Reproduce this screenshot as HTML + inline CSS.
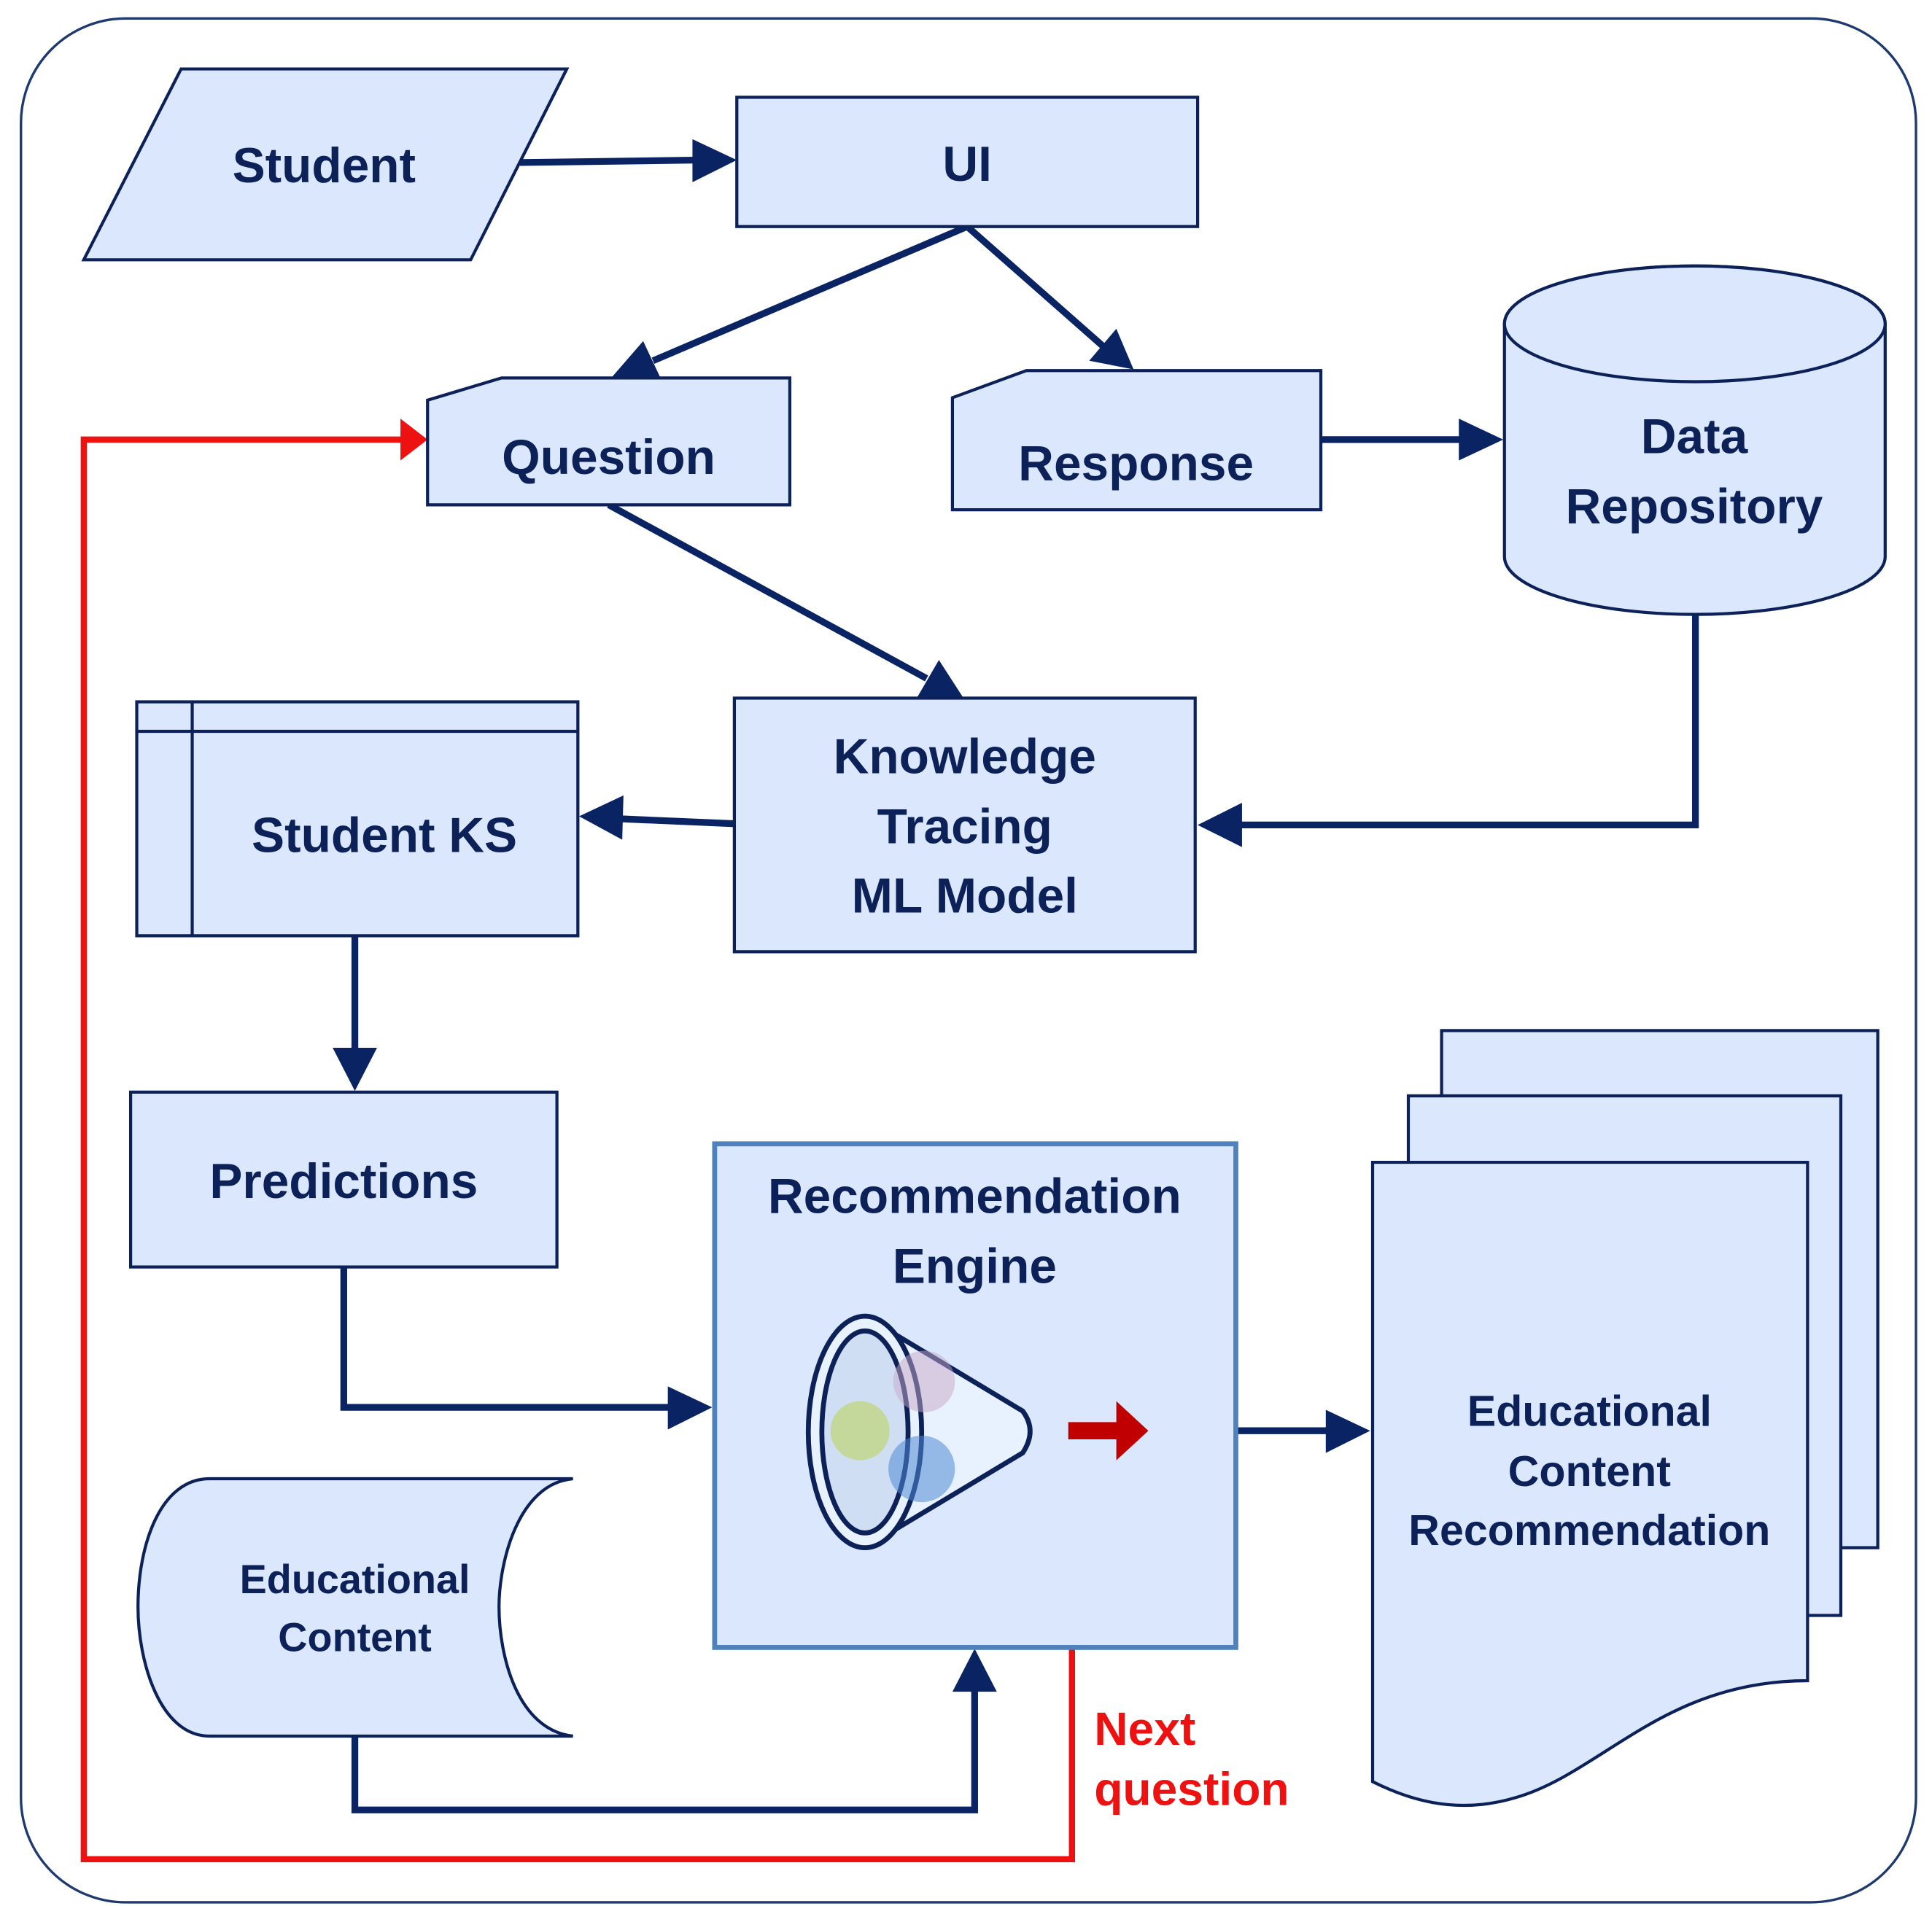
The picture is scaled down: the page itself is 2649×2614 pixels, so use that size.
<!DOCTYPE html>
<html><head><meta charset="utf-8"><style>html,body{margin:0;padding:0;background:#fff}svg{display:block}</style></head><body>
<svg width="2649" height="2614" viewBox="0 0 1568 1548" preserveAspectRatio="none" xmlns="http://www.w3.org/2000/svg">
<style>
.n{fill:#dae7fc;stroke:#0d2159;stroke-width:2.5}
.c{fill:none;stroke:#0a2463;stroke-width:5.5}
.t{font-family:"Liberation Sans",sans-serif;font-weight:bold;fill:#0d2159;text-anchor:middle}
</style>
<rect x="17" y="15" width="1538" height="1530" rx="85" fill="#fff" stroke="#1f3a6e" stroke-width="2"/>

<g fill="#0a2463">
<line class="c" x1="422" y1="132" x2="568" y2="130"/><path d="M562,113 L598,130 L562,148 z"/>
<line class="c" x1="785" y1="184" x2="530" y2="293"/><path d="M496,307 L522,277 L537,309 z"/>
<line class="c" x1="785" y1="184" x2="895" y2="281"/><path d="M920,300 L884,293 L906,267 z"/>
<line class="c" x1="1072" y1="357" x2="1188" y2="357"/><path d="M1184,340 L1220,357 L1184,374 z"/>
<line class="c" x1="494" y1="410" x2="752" y2="551"/><path d="M782,567 L744,567 L762,536 z"/>
<polyline class="c" points="1376,499 1376,670 1005,670"/><path d="M972,670 L1008,652 L1008,688 z"/>
<line class="c" x1="596" y1="669" x2="503" y2="665"/><path d="M470,663 L506,646 L505,682 z"/>
<line class="c" x1="288" y1="760" x2="288" y2="855"/><path d="M270,851 L306,851 L288,886 z"/>
<polyline class="c" points="279,1029 279,1143 545,1143"/><path d="M542,1126 L578,1143 L542,1161 z"/>
<polyline class="c" points="288,1410 288,1470 791,1470 791,1372"/><path d="M773,1374 L791,1339 L809,1374 z"/>
<line class="c" x1="1003" y1="1162" x2="1080" y2="1162"/><path d="M1076,1145 L1112,1162 L1076,1180 z"/>
</g>
<polyline points="870,1338 870,1510 68,1510 68,357 330,357" fill="none" stroke="#ee1111" stroke-width="5"/>
<path d="M325,340 L347,357 L325,374 z" fill="#ee1111"/>

<polygon class="n" points="147,56 460,56 382,211 68,211"/>
<text class="t" x="263" y="148" font-size="40">Student</text>
<rect class="n" x="598" y="79" width="374" height="105"/>
<text class="t" x="785" y="147" font-size="40">UI</text>
<polygon class="n" points="407,307 641,307 641,410 347,410 347,325"/>
<text class="t" x="494" y="385" font-size="40">Question</text>
<polygon class="n" points="833,301 1072,301 1072,414 773,414 773,323"/>
<text class="t" x="922" y="390" font-size="40">Response</text>
<path class="n" d="M1221,263 L1221,452 A154.5,47 0 0 0 1530,452 L1530,263 A154.5,47 0 0 0 1221,263 z"/>
<ellipse class="n" cx="1375.5" cy="263" rx="154.5" ry="47"/>
<text class="t" x="1375" y="368" font-size="40">Data</text>
<text class="t" x="1375" y="425" font-size="40">Repository</text>
<rect class="n" x="596" y="567" width="374" height="206"/>
<text class="t" x="783" y="628" font-size="40">Knowledge</text>
<text class="t" x="783" y="685" font-size="40">Tracing</text>
<text class="t" x="783" y="741" font-size="40">ML Model</text>
<rect class="n" x="111" y="570" width="358" height="190"/>
<line x1="156" y1="570" x2="156" y2="760" stroke="#0d2159" stroke-width="2.5"/>
<line x1="111" y1="594" x2="469" y2="594" stroke="#0d2159" stroke-width="2.5"/>
<text class="t" x="312" y="692" font-size="40">Student KS</text>
<rect class="n" x="106" y="887" width="346" height="142"/>
<text class="t" x="279" y="973" font-size="40">Predictions</text>
<rect x="580" y="929" width="423" height="409" fill="#dae7fc" stroke="#4f81bd" stroke-width="4"/>
<text class="t" x="791" y="985" font-size="40">Recommendation</text>
<text class="t" x="791" y="1042" font-size="40">Engine</text>
<path d="M702,1069 L830,1146 Q842,1162 830,1180 L702,1257 Z" fill="#e8f1fe" stroke="#0d2159" stroke-width="4" stroke-linejoin="round"/>
<ellipse cx="702" cy="1163" rx="46" ry="94" fill="#e8f1fe" stroke="#0d2159" stroke-width="4"/>
<ellipse cx="702" cy="1163" rx="35" ry="82" fill="#d0def4" stroke="#0d2159" stroke-width="4"/>
<circle cx="750" cy="1122" r="25" fill="#c8a8c8" opacity="0.5"/>
<circle cx="698" cy="1162" r="24" fill="#c5d89c"/>
<circle cx="748" cy="1193" r="27" fill="#4f8bd4" opacity="0.55"/>
<path d="M867,1155 L906,1155 L906,1138 L932,1162 L906,1186 L906,1169 L867,1169 z" fill="#c00000"/>
<rect class="n" x="1170" y="837" width="354" height="420"/>
<rect class="n" x="1143" y="890" width="351" height="422"/>
<path class="n" d="M1114,944 L1467,944 L1467,1365 C1350,1365 1300,1440 1230,1460 C1180,1475 1140,1460 1114,1447 Z"/>
<text class="t" x="1290" y="1158" font-size="35">Educational</text>
<text class="t" x="1290" y="1207" font-size="35">Content</text>
<text class="t" x="1290" y="1255" font-size="35">Recommendation</text>
<path class="n" d="M170,1201 L465,1201 C420,1205 405,1270 405,1305 C405,1345 420,1405 465,1410 L170,1410 C130,1410 112,1350 112,1305 C112,1255 130,1201 170,1201 Z"/>
<text class="t" x="288" y="1294" font-size="33">Educational</text>
<text class="t" x="288" y="1341" font-size="33">Content</text>
<text x="888" y="1417" font-family="Liberation Sans,sans-serif" font-weight="bold" font-size="38" fill="#ee1111">Next</text>
<text x="888" y="1466" font-family="Liberation Sans,sans-serif" font-weight="bold" font-size="38" fill="#ee1111">question</text>
</svg>
</body></html>
